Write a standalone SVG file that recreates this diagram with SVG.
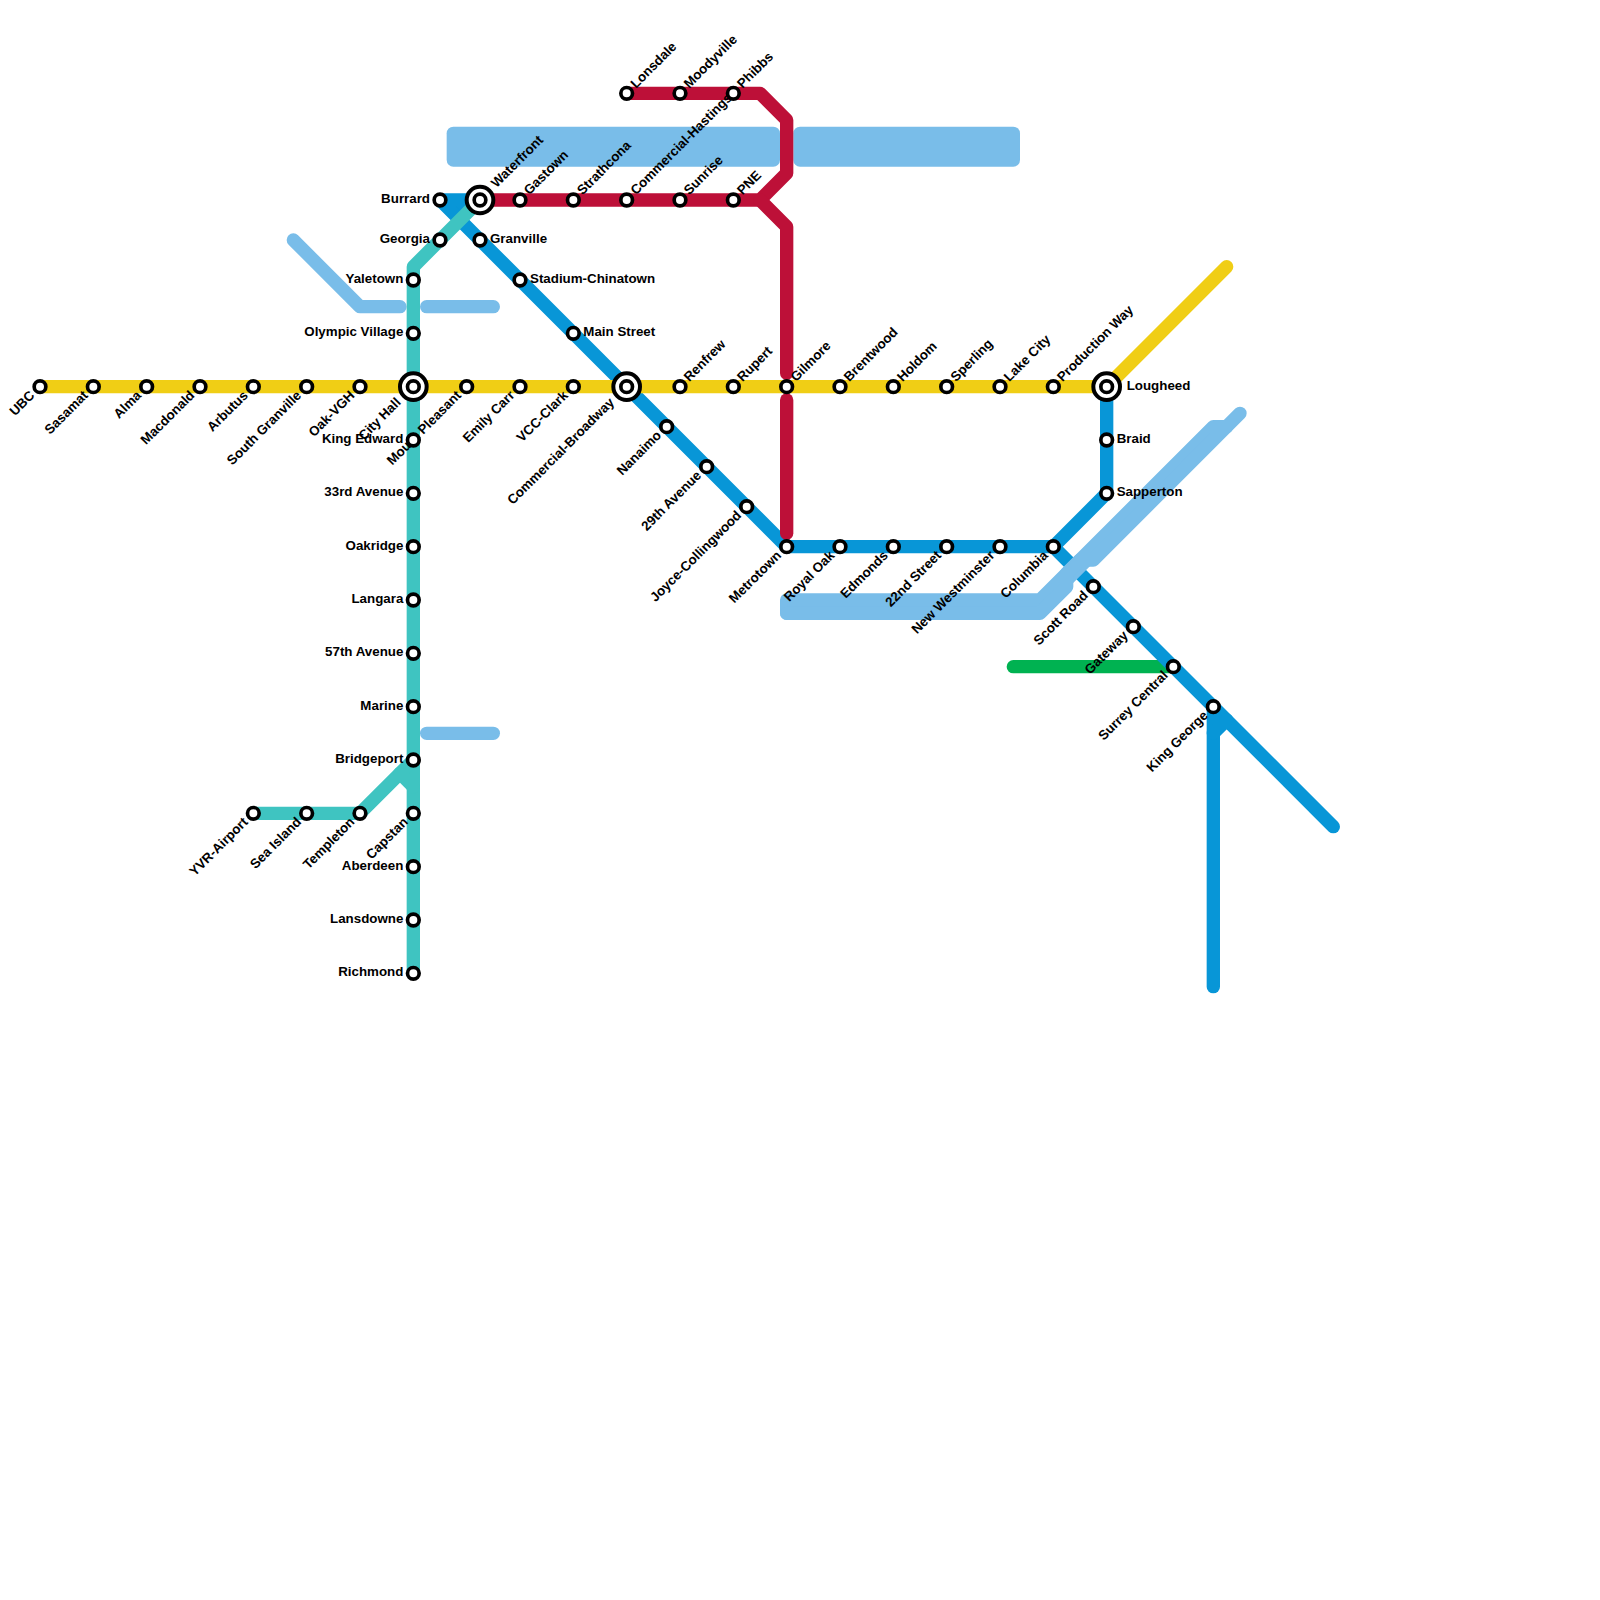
<svg xmlns="http://www.w3.org/2000/svg" width="1600" height="1600" viewBox="0 0 1600 1600">
<style>
.ln{fill:none;stroke-width:13.33;stroke-linecap:round;stroke-linejoin:round}
.yellow{stroke:#f0ce15}.blue{stroke:#0896d7}.teal{stroke:#3fc4c1}.red{stroke:#bd1038}.green{stroke:#00b251}.water{stroke:#79bde9}
.waterfill{fill:#79bde9}
.bluefill{fill:#0896d7}
.st{fill:#fff;stroke:#000;stroke-width:3.67}
.ring{fill:#fff;stroke:#000;stroke-width:4}
text{font-family:"Liberation Sans",Arial,sans-serif;font-size:13.33px;font-weight:700;fill:#000}
.l{text-anchor:end}
.dl{text-anchor:end}
</style>
<rect width="1600" height="1600" fill="#fff"/>
<g id="connectors">
<path class="ln green" d="M1013.33 666.67H1173.33"/>
<path class="bluefill" d="M440 200H480L460 220Z"/>
<path class="ln blue" d="M480 200H440L786.67 546.67H1053.33L1106.67 493.33V386.67"/>
<path class="ln blue" d="M1053.33 546.67L1333.33 826.67"/>
<path class="ln blue" d="M1213.33 706.67V986.67"/>
<path class="ln blue" d="M1213.33 733.33L1226.67 720"/>
<g id="water">
<rect class="waterfill" x="446.67" y="126.67" width="333.33" height="40" rx="6.67"/>
<rect class="waterfill" x="793.33" y="126.67" width="226.67" height="40" rx="6.67"/>
<path class="ln water" d="M293.33 240L360 306.67H400"/>
<path class="ln water" d="M426.67 306.67H493.33"/>
<path class="ln water" d="M426.67 733.33H493.33"/>
<path class="ln water" d="M786.67 606.67H1040L1220 426.67"/>
<path class="ln water" d="M786.67 613.33V600H1040L1213.33 426.67H1226.67"/>
<path class="ln water" d="M786.67 613.33H1040L1066.67 586.67V573.33L1080 560H1093.33L1240 413.33"/>
</g>
<path class="ln teal" d="M480 200L413.33 266.67V973.33"/>
<path class="ln teal" d="M253.33 813.33H360L413.33 760"/>
<path class="ln teal" d="M400 773.33L413.33 786.67"/>
<path class="ln red" d="M626.67 93.33H760L786.67 120V173.33L760 200H480"/>
<path class="ln red" d="M760 200L786.67 226.67V373.33"/>
<path class="ln red" d="M786.67 400V533.33"/>
<path class="ln yellow" d="M40 386.67H1106.67L1226.67 266.67"/>
</g>
<g id="stations">
<g id="ubc" transform="translate(40,386.67)"><circle class="st" r="5.83"/><text class="dl" transform="rotate(-45)" x="-10" y="3.4">UBC</text></g>
<g id="sasamat" transform="translate(93.33,386.67)"><circle class="st" r="5.83"/><text class="dl" transform="rotate(-45)" x="-10" y="3.4">Sasamat</text></g>
<g id="alma" transform="translate(146.67,386.67)"><circle class="st" r="5.83"/><text class="dl" transform="rotate(-45)" x="-10" y="3.4">Alma</text></g>
<g id="macdonald" transform="translate(200,386.67)"><circle class="st" r="5.83"/><text class="dl" transform="rotate(-45)" x="-10" y="3.4">Macdonald</text></g>
<g id="arbutus" transform="translate(253.33,386.67)"><circle class="st" r="5.83"/><text class="dl" transform="rotate(-45)" x="-10" y="3.4">Arbutus</text></g>
<g id="south-granville" transform="translate(306.67,386.67)"><circle class="st" r="5.83"/><text class="dl" transform="rotate(-45)" x="-10" y="3.4">South Granville</text></g>
<g id="oak-vgh" transform="translate(360,386.67)"><circle class="st" r="5.83"/><text class="dl" transform="rotate(-45)" x="-10" y="3.4">Oak-VGH</text></g>
<g id="city-hall" transform="translate(413.33,386.67)"><circle class="ring" r="13.33"/><circle class="st" r="5.83"/><text class="dl" transform="rotate(-45)" x="-20" y="3.4">City Hall</text></g>
<g id="mount-pleasant" transform="translate(466.67,386.67)"><circle class="st" r="5.83"/><text class="dl" transform="rotate(-45)" x="-10" y="3.4">Mount Pleasant</text></g>
<g id="emily-carr" transform="translate(520,386.67)"><circle class="st" r="5.83"/><text class="dl" transform="rotate(-45)" x="-10" y="3.4">Emily Carr</text></g>
<g id="vcc-clark" transform="translate(573.33,386.67)"><circle class="st" r="5.83"/><text class="dl" transform="rotate(-45)" x="-10" y="3.4">VCC-Clark</text></g>
<g id="commercial-broadway" transform="translate(626.67,386.67)"><circle class="ring" r="13.33"/><circle class="st" r="5.83"/><text class="dl" transform="rotate(-45)" x="-20" y="3.4">Commercial-Broadway</text></g>
<g id="renfrew" transform="translate(680,386.67)"><circle class="st" r="5.83"/><text transform="rotate(-45)" x="9.7" y="3.4">Renfrew</text></g>
<g id="rupert" transform="translate(733.33,386.67)"><circle class="st" r="5.83"/><text transform="rotate(-45)" x="9.7" y="3.4">Rupert</text></g>
<g id="gilmore" transform="translate(786.67,386.67)"><circle class="st" r="5.83"/><text transform="rotate(-45)" x="9.7" y="3.4">Gilmore</text></g>
<g id="brentwood" transform="translate(840,386.67)"><circle class="st" r="5.83"/><text transform="rotate(-45)" x="9.7" y="3.4">Brentwood</text></g>
<g id="holdom" transform="translate(893.33,386.67)"><circle class="st" r="5.83"/><text transform="rotate(-45)" x="9.7" y="3.4">Holdom</text></g>
<g id="sperling" transform="translate(946.67,386.67)"><circle class="st" r="5.83"/><text transform="rotate(-45)" x="9.7" y="3.4">Sperling</text></g>
<g id="lake-city" transform="translate(1000,386.67)"><circle class="st" r="5.83"/><text transform="rotate(-45)" x="9.7" y="3.4">Lake City</text></g>
<g id="production-way" transform="translate(1053.33,386.67)"><circle class="st" r="5.83"/><text transform="rotate(-45)" x="9.7" y="3.4">Production Way</text></g>
<g id="lougheed" transform="translate(1106.67,386.67)"><circle class="ring" r="13.33"/><circle class="st" r="5.83"/><text x="20" y="3">Lougheed</text></g>
<g id="braid" transform="translate(1106.67,440)"><circle class="st" r="5.83"/><text x="10" y="3">Braid</text></g>
<g id="sapperton" transform="translate(1106.67,493.33)"><circle class="st" r="5.83"/><text x="10" y="3">Sapperton</text></g>
<g id="burrard" transform="translate(440,200)"><circle class="st" r="5.83"/><text class="l" x="-10" y="3">Burrard</text></g>
<g id="georgia" transform="translate(440,240)"><circle class="st" r="5.83"/><text class="l" x="-10" y="3">Georgia</text></g>
<g id="waterfront" transform="translate(480,200)"><circle class="ring" r="13.33"/><circle class="st" r="5.83"/><text transform="rotate(-45)" x="20" y="3.4">Waterfront</text></g>
<g id="granville" transform="translate(480,240)"><circle class="st" r="5.83"/><text x="10" y="3">Granville</text></g>
<g id="stadium-chinatown" transform="translate(520,280)"><circle class="st" r="5.83"/><text x="10" y="3">Stadium-Chinatown</text></g>
<g id="main-street" transform="translate(573.33,333.33)"><circle class="st" r="5.83"/><text x="10" y="3">Main Street</text></g>
<g id="nanaimo" transform="translate(666.67,426.67)"><circle class="st" r="5.83"/><text class="dl" transform="rotate(-45)" x="-10" y="3.4">Nanaimo</text></g>
<g id="twenty-ninth-avenue" transform="translate(706.67,466.67)"><circle class="st" r="5.83"/><text class="dl" transform="rotate(-45)" x="-10" y="3.4">29th Avenue</text></g>
<g id="joyce-collingwood" transform="translate(746.67,506.67)"><circle class="st" r="5.83"/><text class="dl" transform="rotate(-45)" x="-10" y="3.4">Joyce-Collingwood</text></g>
<g id="metrotown" transform="translate(786.67,546.67)"><circle class="st" r="5.83"/><text class="dl" transform="rotate(-45)" x="-10" y="3.4">Metrotown</text></g>
<g id="royal-oak" transform="translate(840,546.67)"><circle class="st" r="5.83"/><text class="dl" transform="rotate(-45)" x="-10" y="3.4">Royal Oak</text></g>
<g id="edmonds" transform="translate(893.33,546.67)"><circle class="st" r="5.83"/><text class="dl" transform="rotate(-45)" x="-10" y="3.4">Edmonds</text></g>
<g id="twenty-second-street" transform="translate(946.67,546.67)"><circle class="st" r="5.83"/><text class="dl" transform="rotate(-45)" x="-10" y="3.4">22nd Street</text></g>
<g id="new-westminster" transform="translate(1000,546.67)"><circle class="st" r="5.83"/><text class="dl" transform="rotate(-45)" x="-10" y="3.4">New Westminster</text></g>
<g id="columbia" transform="translate(1053.33,546.67)"><circle class="st" r="5.83"/><text class="dl" transform="rotate(-45)" x="-10" y="3.4">Columbia</text></g>
<g id="scott-road" transform="translate(1093.33,586.67)"><circle class="st" r="5.83"/><text class="dl" transform="rotate(-45)" x="-10" y="3.4">Scott Road</text></g>
<g id="gateway" transform="translate(1133.33,626.67)"><circle class="st" r="5.83"/><text class="dl" transform="rotate(-45)" x="-10" y="3.4">Gateway</text></g>
<g id="surrey-central" transform="translate(1173.33,666.67)"><circle class="st" r="5.83"/><text class="dl" transform="rotate(-45)" x="-10" y="3.4">Surrey Central</text></g>
<g id="king-george" transform="translate(1213.33,706.67)"><circle class="st" r="5.83"/><text class="dl" transform="rotate(-45)" x="-10" y="3.4">King George</text></g>
<g id="gastown" transform="translate(520,200)"><circle class="st" r="5.83"/><text transform="rotate(-45)" x="9.7" y="3.4">Gastown</text></g>
<g id="strathcona" transform="translate(573.33,200)"><circle class="st" r="5.83"/><text transform="rotate(-45)" x="9.7" y="3.4">Strathcona</text></g>
<g id="commercial-hastings" transform="translate(626.67,200)"><circle class="st" r="5.83"/><text transform="rotate(-45)" x="9.7" y="3.4">Commercial-Hastings</text></g>
<g id="sunrise" transform="translate(680,200)"><circle class="st" r="5.83"/><text transform="rotate(-45)" x="9.7" y="3.4">Sunrise</text></g>
<g id="pne" transform="translate(733.33,200)"><circle class="st" r="5.83"/><text transform="rotate(-45)" x="9.7" y="3.4">PNE</text></g>
<g id="lonsdale" transform="translate(626.67,93.33)"><circle class="st" r="5.83"/><text transform="rotate(-45)" x="9.7" y="3.4">Lonsdale</text></g>
<g id="moodyville" transform="translate(680,93.33)"><circle class="st" r="5.83"/><text transform="rotate(-45)" x="9.7" y="3.4">Moodyville</text></g>
<g id="phibbs" transform="translate(733.33,93.33)"><circle class="st" r="5.83"/><text transform="rotate(-45)" x="9.7" y="3.4">Phibbs</text></g>
<g id="yaletown" transform="translate(413.33,280)"><circle class="st" r="5.83"/><text class="l" x="-10" y="3">Yaletown</text></g>
<g id="olympic-village" transform="translate(413.33,333.33)"><circle class="st" r="5.83"/><text class="l" x="-10" y="3">Olympic Village</text></g>
<g id="king-edward" transform="translate(413.33,440)"><circle class="st" r="5.83"/><text class="l" x="-10" y="3">King Edward</text></g>
<g id="thirty-third-avenue" transform="translate(413.33,493.33)"><circle class="st" r="5.83"/><text class="l" x="-10" y="3">33rd Avenue</text></g>
<g id="oakridge" transform="translate(413.33,546.67)"><circle class="st" r="5.83"/><text class="l" x="-10" y="3">Oakridge</text></g>
<g id="langara" transform="translate(413.33,600)"><circle class="st" r="5.83"/><text class="l" x="-10" y="3">Langara</text></g>
<g id="fifty-seventh-avenue" transform="translate(413.33,653.33)"><circle class="st" r="5.83"/><text class="l" x="-10" y="3">57th Avenue</text></g>
<g id="marine" transform="translate(413.33,706.67)"><circle class="st" r="5.83"/><text class="l" x="-10" y="3">Marine</text></g>
<g id="bridgeport" transform="translate(413.33,760)"><circle class="st" r="5.83"/><text class="l" x="-10" y="3">Bridgeport</text></g>
<g id="capstan" transform="translate(413.33,813.33)"><circle class="st" r="5.83"/><text class="dl" transform="rotate(-45)" x="-10" y="3.4">Capstan</text></g>
<g id="aberdeen" transform="translate(413.33,866.67)"><circle class="st" r="5.83"/><text class="l" x="-10" y="3">Aberdeen</text></g>
<g id="lansdowne" transform="translate(413.33,920)"><circle class="st" r="5.83"/><text class="l" x="-10" y="3">Lansdowne</text></g>
<g id="richmond" transform="translate(413.33,973.33)"><circle class="st" r="5.83"/><text class="l" x="-10" y="3">Richmond</text></g>
<g id="templeton" transform="translate(360,813.33)"><circle class="st" r="5.83"/><text class="dl" transform="rotate(-45)" x="-10" y="3.4">Templeton</text></g>
<g id="sea-island" transform="translate(306.67,813.33)"><circle class="st" r="5.83"/><text class="dl" transform="rotate(-45)" x="-10" y="3.4">Sea Island</text></g>
<g id="yvr-airport" transform="translate(253.33,813.33)"><circle class="st" r="5.83"/><text class="dl" transform="rotate(-45)" x="-10" y="3.4">YVR-Airport</text></g>
</g>
</svg>
